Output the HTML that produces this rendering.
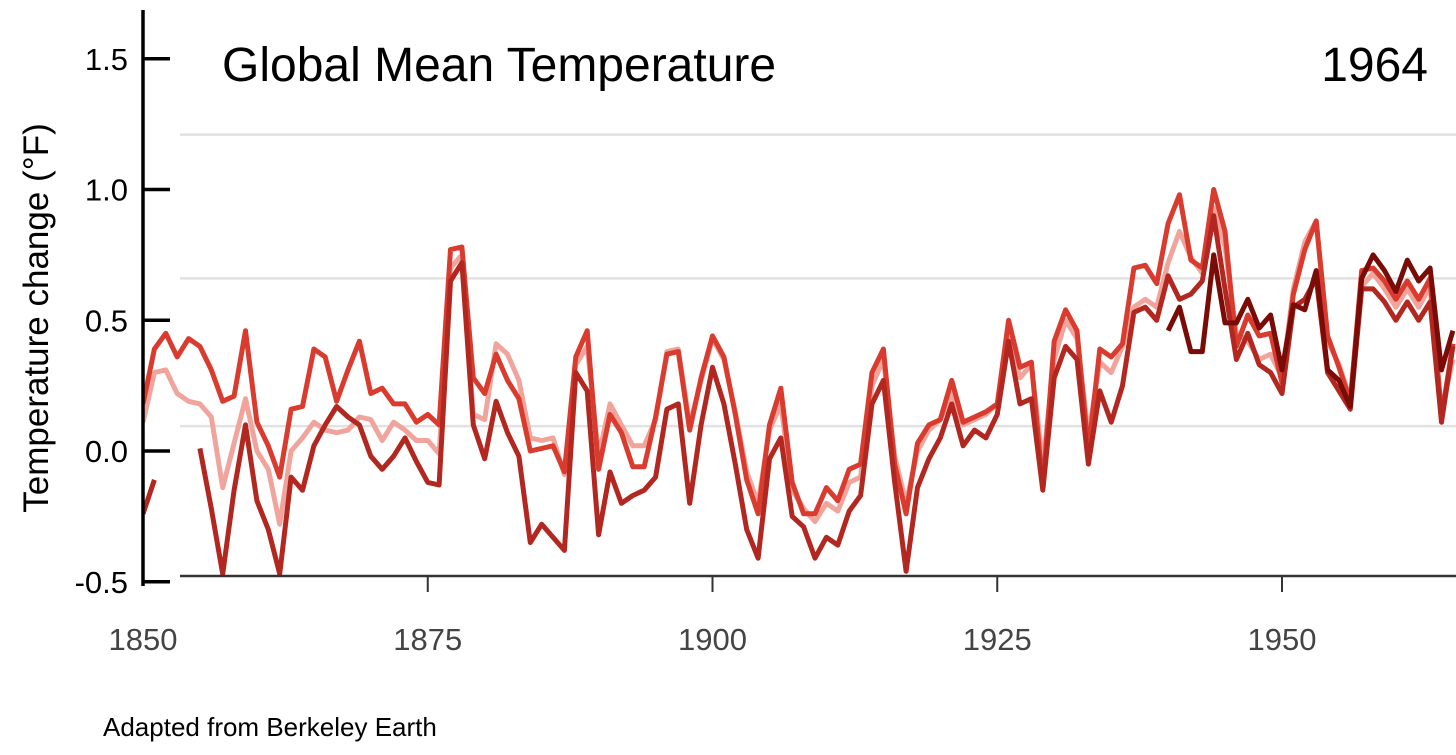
<!DOCTYPE html>
<html><head><meta charset="utf-8"><style>
html,body{margin:0;padding:0;background:#fff;width:1456px;height:755px;overflow:hidden}
svg{display:block;font-family:"Liberation Sans",sans-serif}
</style></head><body>
<svg id="chart" width="1456" height="755" viewBox="0 0 1456 755">
<g id="grid"></g>
<g id="series" clip-path="url(#clip)"></g>
<defs><clipPath id="clip"><rect x="143" y="0" width="1313" height="600"/></clipPath></defs>
<g id="axes"></g>
<text x="222" y="81" font-size="48" fill="#000">Global Mean Temperature</text>
<text x="1428" y="81" font-size="48" fill="#000" text-anchor="end">1964</text>
<text transform="translate(48,318) rotate(-90)" font-size="35" text-anchor="middle" fill="#000">Temperature change (°F)</text>
<text x="103" y="736" font-size="26" fill="#000">Adapted from Berkeley Earth</text>
</svg>
<script>
const startYear = 1850;
const yTicks = [1.5, 1.0, 0.5, 0.0, -0.5];
const yTickLabels = ["1.5", "1.0", "0.5", "0.0", "-0.5"];
const gridValues = [1.21, 0.66, 0.095];
const xTicks = [1850, 1875, 1900, 1925, 1950];
const seriesRed = [0.18,0.39,0.45,0.36,0.43,0.40,0.31,0.19,0.21,0.46,0.11,0.02,-0.10,0.16,0.17,0.39,0.36,0.19,0.31,0.42,0.22,0.24,0.18,0.18,0.11,0.14,0.10,0.77,0.78,0.28,0.22,0.37,0.27,0.20,0.00,0.01,0.02,-0.08,0.36,0.46,-0.07,0.14,0.07,-0.06,-0.06,0.13,0.37,0.38,0.08,0.28,0.44,0.36,0.14,-0.11,-0.24,0.10,0.24,-0.12,-0.24,-0.24,-0.14,-0.19,-0.07,-0.05,0.30,0.39,-0.05,-0.24,0.03,0.10,0.12,0.27,0.11,0.13,0.15,0.18,0.50,0.32,0.34,-0.14,0.42,0.54,0.46,0.00,0.39,0.36,0.41,0.70,0.71,0.64,0.87,0.98,0.73,0.70,1.00,0.84,0.40,0.52,0.44,0.45,0.26,0.60,0.77,0.88,0.44,0.32,0.19,0.69,0.70,0.65,0.58,0.65,0.58,0.66,0.13,0.41];
const seriesLight = [0.11,0.30,0.31,0.22,0.19,0.18,0.13,-0.14,0.03,0.20,0.00,-0.07,-0.28,0.00,0.05,0.11,0.08,0.07,0.08,0.13,0.12,0.04,0.11,0.08,0.04,0.04,-0.01,0.70,0.75,0.14,0.12,0.41,0.37,0.27,0.05,0.04,0.05,-0.09,0.33,0.40,-0.02,0.18,0.10,0.02,0.02,0.12,0.38,0.39,0.10,0.27,0.43,0.35,0.15,-0.08,-0.20,0.08,0.18,-0.15,-0.22,-0.27,-0.20,-0.23,-0.12,-0.10,0.25,0.35,-0.02,-0.20,0.00,0.08,0.12,0.22,0.10,0.12,0.14,0.18,0.45,0.28,0.33,-0.05,0.35,0.50,0.43,0.06,0.34,0.30,0.40,0.55,0.58,0.55,0.72,0.84,0.74,0.68,0.93,0.78,0.45,0.42,0.35,0.37,0.28,0.62,0.80,0.88,0.42,0.33,0.20,0.63,0.68,0.62,0.55,0.62,0.55,0.63,0.15,0.35];
const seriesDark = [-0.24,-0.11,null,null,null,0.01,-0.22,-0.47,-0.15,0.10,-0.19,-0.30,-0.47,-0.10,-0.15,0.02,0.10,0.17,0.13,0.10,-0.02,-0.07,-0.02,0.05,-0.04,-0.12,-0.13,0.65,0.72,0.10,-0.03,0.19,0.07,-0.02,-0.35,-0.28,-0.33,-0.38,0.30,0.23,-0.32,-0.08,-0.20,-0.17,-0.15,-0.10,0.16,0.18,-0.20,0.10,0.32,0.18,-0.05,-0.30,-0.41,-0.03,0.05,-0.25,-0.29,-0.41,-0.33,-0.36,-0.23,-0.17,0.18,0.27,-0.12,-0.46,-0.14,-0.03,0.05,0.18,0.02,0.08,0.05,0.14,0.42,0.18,0.20,-0.15,0.28,0.40,0.35,-0.05,0.23,0.11,0.25,0.53,0.55,0.50,0.67,0.58,0.60,0.65,0.90,0.62,0.35,0.45,0.33,0.30,0.22,0.55,0.58,0.66,0.30,0.23,0.16,0.62,0.62,0.57,0.50,0.57,0.50,0.57,0.11,0.40];
const seriesDarkestStart = 1940;
const seriesDarkest = [0.46,0.55,0.38,0.38,0.75,0.49,0.49,0.58,0.47,0.52,0.31,0.56,0.54,0.69,0.31,0.27,0.17,0.66,0.75,0.69,0.61,0.73,0.65,0.70,0.31,0.46];

const NS = "http://www.w3.org/2000/svg";
const xScale = yr => 143 + (yr - 1850) * 11.39;
const yScale = v => 451 - v * 261.5;

const grid = document.getElementById('grid');
gridValues.forEach(v => {
  const l = document.createElementNS(NS, 'line');
  
  
  l.setAttribute('x1', 180); l.setAttribute('x2', 1456);
  l.setAttribute('y1', yScale(v)); l.setAttribute('y2', yScale(v));
  l.setAttribute('stroke', '#e2e2e2'); l.setAttribute('stroke-width', 2.5);
  grid.appendChild(l);
});

const sg = document.getElementById('series');
function drawSeries(vals, start, color, name) {
  let d = '', pen = false;
  vals.forEach((v, i) => {
    if (v === null) { pen = false; return; }
    d += (pen ? 'L' : 'M') + xScale(start + i).toFixed(1) + ',' + yScale(v).toFixed(1);
    pen = true;
  });
  const p = document.createElementNS(NS, 'path');
  
  
  p.setAttribute('d', d);
  p.setAttribute('fill', 'none');
  p.setAttribute('stroke', color);
  p.setAttribute('stroke-width', 5);
  p.setAttribute('stroke-linejoin', 'round');
  sg.appendChild(p);
}
drawSeries(seriesLight, startYear, '#f0a49c', 'series-light');
drawSeries(seriesRed, startYear, '#d93b2f', 'series-red');
drawSeries(seriesDark, startYear, '#b2271f', 'series-dark');
drawSeries(seriesDarkest, seriesDarkestStart, '#7a0c07', 'series-darkest');

const ax = document.getElementById('axes');
function line(x1,y1,x2,y2,c,w,name){
  const l = document.createElementNS(NS,'line');
  
  
  l.setAttribute('x1',x1);l.setAttribute('y1',y1);l.setAttribute('x2',x2);l.setAttribute('y2',y2);
  l.setAttribute('stroke',c);l.setAttribute('stroke-width',w);
  ax.appendChild(l);
}
function text(x,y,s,size,fill,anchor,name){
  const t = document.createElementNS(NS,'text');
  
  
  t.setAttribute('x',x);t.setAttribute('y',y);t.setAttribute('font-size',size);
  t.setAttribute('fill',fill);t.setAttribute('text-anchor',anchor);
  t.textContent = s; ax.appendChild(t);
}
line(180,576,1456,576,'#333',2.5,'x-axis-line');
line(143,10,143,586,'#000',3.5,'y-axis-line');
yTicks.forEach((v,i)=>{
  line(143,yScale(v),170,yScale(v),'#000',3.5,'y-tick');
  text(128,yScale(v)+11,yTickLabels[i],31,'#000','end','y-tick-label');
});
xTicks.forEach(yr=>{
  if (yr > 1850) line(xScale(yr),576,xScale(yr),592,'#333',2,'x-tick');
  text(xScale(yr),650,String(yr),31,'#444','middle','x-tick-label');
});
</script>
</body></html>
